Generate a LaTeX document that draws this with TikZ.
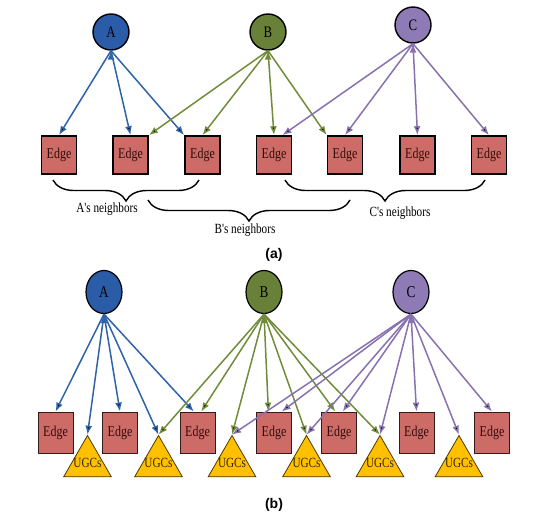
\documentclass[tikz,border=0pt]{standalone}
\usepackage{fontspec}
\setmainfont{Liberation Serif}
\newfontfamily\narrowserif[FakeStretch=0.8]{Liberation Serif}
\newfontfamily\captionsans{Liberation Sans}
\usetikzlibrary{arrows.meta,shapes.geometric,decorations.pathreplacing}
\definecolor{ablue}{RGB}{46,99,170}
\definecolor{afill}{RGB}{42,92,168}
\definecolor{bgreen}{RGB}{112,140,58}
\definecolor{bfill}{RGB}{104,128,56}
\definecolor{cpurple}{RGB}{135,113,175}
\definecolor{cfill}{RGB}{142,122,180}
\definecolor{edgered}{RGB}{205,108,102}
\definecolor{edgetext}{RGB}{50,12,12}
\definecolor{ugcgold}{RGB}{255,192,0}
\begin{document}
\begin{tikzpicture}[x=1pt,y=-1pt,draw=black!100,>={Latex[length=9pt,width=7pt]}]
	\useasboundingbox (0,0) rectangle (546,522);
	\def \srcrowa{32}
	\def \edgerowa{155}
	\def \srcrowb{292}
	\def \edgerowb{432.5}
	\def \ugcrow{463}
	\tikzstyle{s-node}=[circle,draw=black,line width=1.4pt,minimum size=36pt,inner sep=0pt,font=\narrowserif\fontsize{16}{17}\selectfont]
	\tikzstyle{t-node}=[ellipse,draw=black,line width=1.2pt,minimum width=36pt,minimum height=43pt,inner sep=0pt,font=\narrowserif\fontsize{16.5}{17}\selectfont]
	\tikzstyle{e-node}=[rectangle,fill=edgered,draw=black,line width=1.7pt,minimum width=35pt,minimum height=38pt,inner sep=0pt,text=edgetext,font=\narrowserif\fontsize{15}{16}\selectfont]
	\tikzstyle{f-node}=[e-node,draw=black!75!edgered,line width=0.8pt,minimum height=41pt]
	\tikzstyle{u-node}=[regular polygon,regular polygon sides=3,fill=ugcgold,draw=black!70!ugcgold,line width=0.8pt,minimum size=55pt,inner sep=0pt,text=black!80!ugcgold,font=\narrowserif\fontsize{14}{15}\selectfont]
	\tikzstyle{annot}=[font=\narrowserif\fontsize{14}{15}\selectfont]
	\tikzstyle{caption}=[font=\captionsans\bfseries\fontsize{14}{16}\selectfont]
	\tikzstyle{nbrace}=[decorate,decoration={brace,amplitude=21pt},line width=1.4pt]
	\tikzstyle{a-arrow}=[->,draw=ablue,line width=1.5pt]
	\tikzstyle{b-arrow}=[->,draw=bgreen,line width=1.5pt]
	\tikzstyle{c-arrow}=[->,draw=cpurple,line width=1.5pt]

	% (a) sources
	\node[s-node,fill=afill] 	(s0)	at (111,\srcrowa)	{A};
	\node[s-node,fill=bfill] 	(s1)	at (268,\srcrowa)	{B};
	\node[s-node,fill=cfill] 	(s2)	at (413,25)		{C};

	% (a) edges
	\node[e-node] 	(e0)	at (59,\edgerowa)	{Edge};
	\node[e-node] 	(e1)	at (130.5,\edgerowa)	{Edge};
	\node[e-node] 	(e2)	at (202.5,\edgerowa)	{Edge};
	\node[e-node] 	(e3)	at (274,\edgerowa)	{Edge};
	\node[e-node] 	(e4)	at (345,\edgerowa)	{Edge};
	\node[e-node] 	(e5)	at (417.5,\edgerowa)	{Edge};
	\node[e-node] 	(e6)	at (489,\edgerowa)	{Edge};

	\path[a-arrow]
		(s0.south)	edge	(e0.north)
		(s0.south)	edge	(e1.north)
		(s0.south)	edge	(e2.north west);
	\path[b-arrow]
		(s1.south)	edge	(e1.north east)
		(s1.south)	edge	(e2.north)
		(s1.south)	edge	(e3.north)
		(s1.south)	edge	(e4.north west);
	\path[c-arrow]
		(s2.south)	edge	(e3.67)
		(s2.south)	edge	(e4.north)
		(s2.south)	edge	(e5.north)
		(s2.south)	edge	(e6.north);

	% neighbor braces
	\draw[nbrace] (199,180) -- (53,180);
	\draw[nbrace] (350,200) -- (148,200);
	\draw[nbrace] (485,180) -- (285,180);
	\node[annot] 	(na)	at (107,209)	{A's neighbors};
	\node[annot] 	(nb)	at (245,230)	{B's neighbors};
	\node[annot] 	(nc)	at (400,213)	{C's neighbors};
	\node[caption] 	(capa)	at (274,255)	{(a)};

	% (b) sources
	\node[t-node,fill=afill] 	(t0)	at (104,\srcrowb)	{A};
	\node[t-node,fill=bfill] 	(t1)	at (264,\srcrowb)	{B};
	\node[t-node,fill=cfill] 	(t2)	at (411,\srcrowb)	{C};

	% (b) edges
	\node[f-node] 	(f0)	at (55.5,\edgerowb)	{Edge};
	\node[f-node] 	(f1)	at (120,\edgerowb)	{Edge};
	\node[f-node] 	(f2)	at (197.5,\edgerowb)	{Edge};
	\node[f-node] 	(f3)	at (274,\edgerowb)	{Edge};
	\node[f-node] 	(f4)	at (339,\edgerowb)	{Edge};
	\node[f-node] 	(f5)	at (416.5,\edgerowb)	{Edge};
	\node[f-node] 	(f6)	at (492,\edgerowb)	{Edge};

	% (b) UGCs
	\node[u-node] 	(u0)	at (87.5,\ugcrow)	{\makebox[0pt]{UGCs}};
	\node[u-node] 	(u1)	at (158.5,\ugcrow)	{\makebox[0pt]{UGCs}};
	\node[u-node] 	(u2)	at (232,\ugcrow)	{\makebox[0pt]{UGCs}};
	\node[u-node] 	(u3)	at (306.5,\ugcrow)	{\makebox[0pt]{UGCs}};
	\node[u-node] 	(u4)	at (380,\ugcrow)	{\makebox[0pt]{UGCs}};
	\node[u-node] 	(u5)	at (459,\ugcrow)	{\makebox[0pt]{UGCs}};

	\path[a-arrow]
		(t0.south)	edge	(f0.north)
		(t0.south)	edge	(u0.north)
		(t0.south)	edge	(f1.north)
		(t0.south)	edge	(u1.north)
		(t0.south)	edge	(f2.100);
	\path[b-arrow]
		(t1.south)	edge	(f2.80)
		(t1.south)	edge	(u1.north)
		(t1.south)	edge	(u2.north)
		(t1.south)	edge	(f3.105)
		(t1.south)	edge	(u3.north)
		(t1.south)	edge	(f4.100)
		(t1.south)	edge	(u4.north);
	\path[c-arrow]
		(t2.south)	edge	(u2.north)
		(t2.south)	edge	(f3.70)
		(t2.south)	edge	(u3.north)
		(t2.south)	edge	(f4.80)
		(t2.south)	edge	(u4.north)
		(t2.south)	edge	(f5.north)
		(t2.south)	edge	(u5.north)
		(t2.south)	edge	(f6.north);
	\node[caption] 	(capb)	at (274,505)	{(b)};
\end{tikzpicture}
\end{document}
